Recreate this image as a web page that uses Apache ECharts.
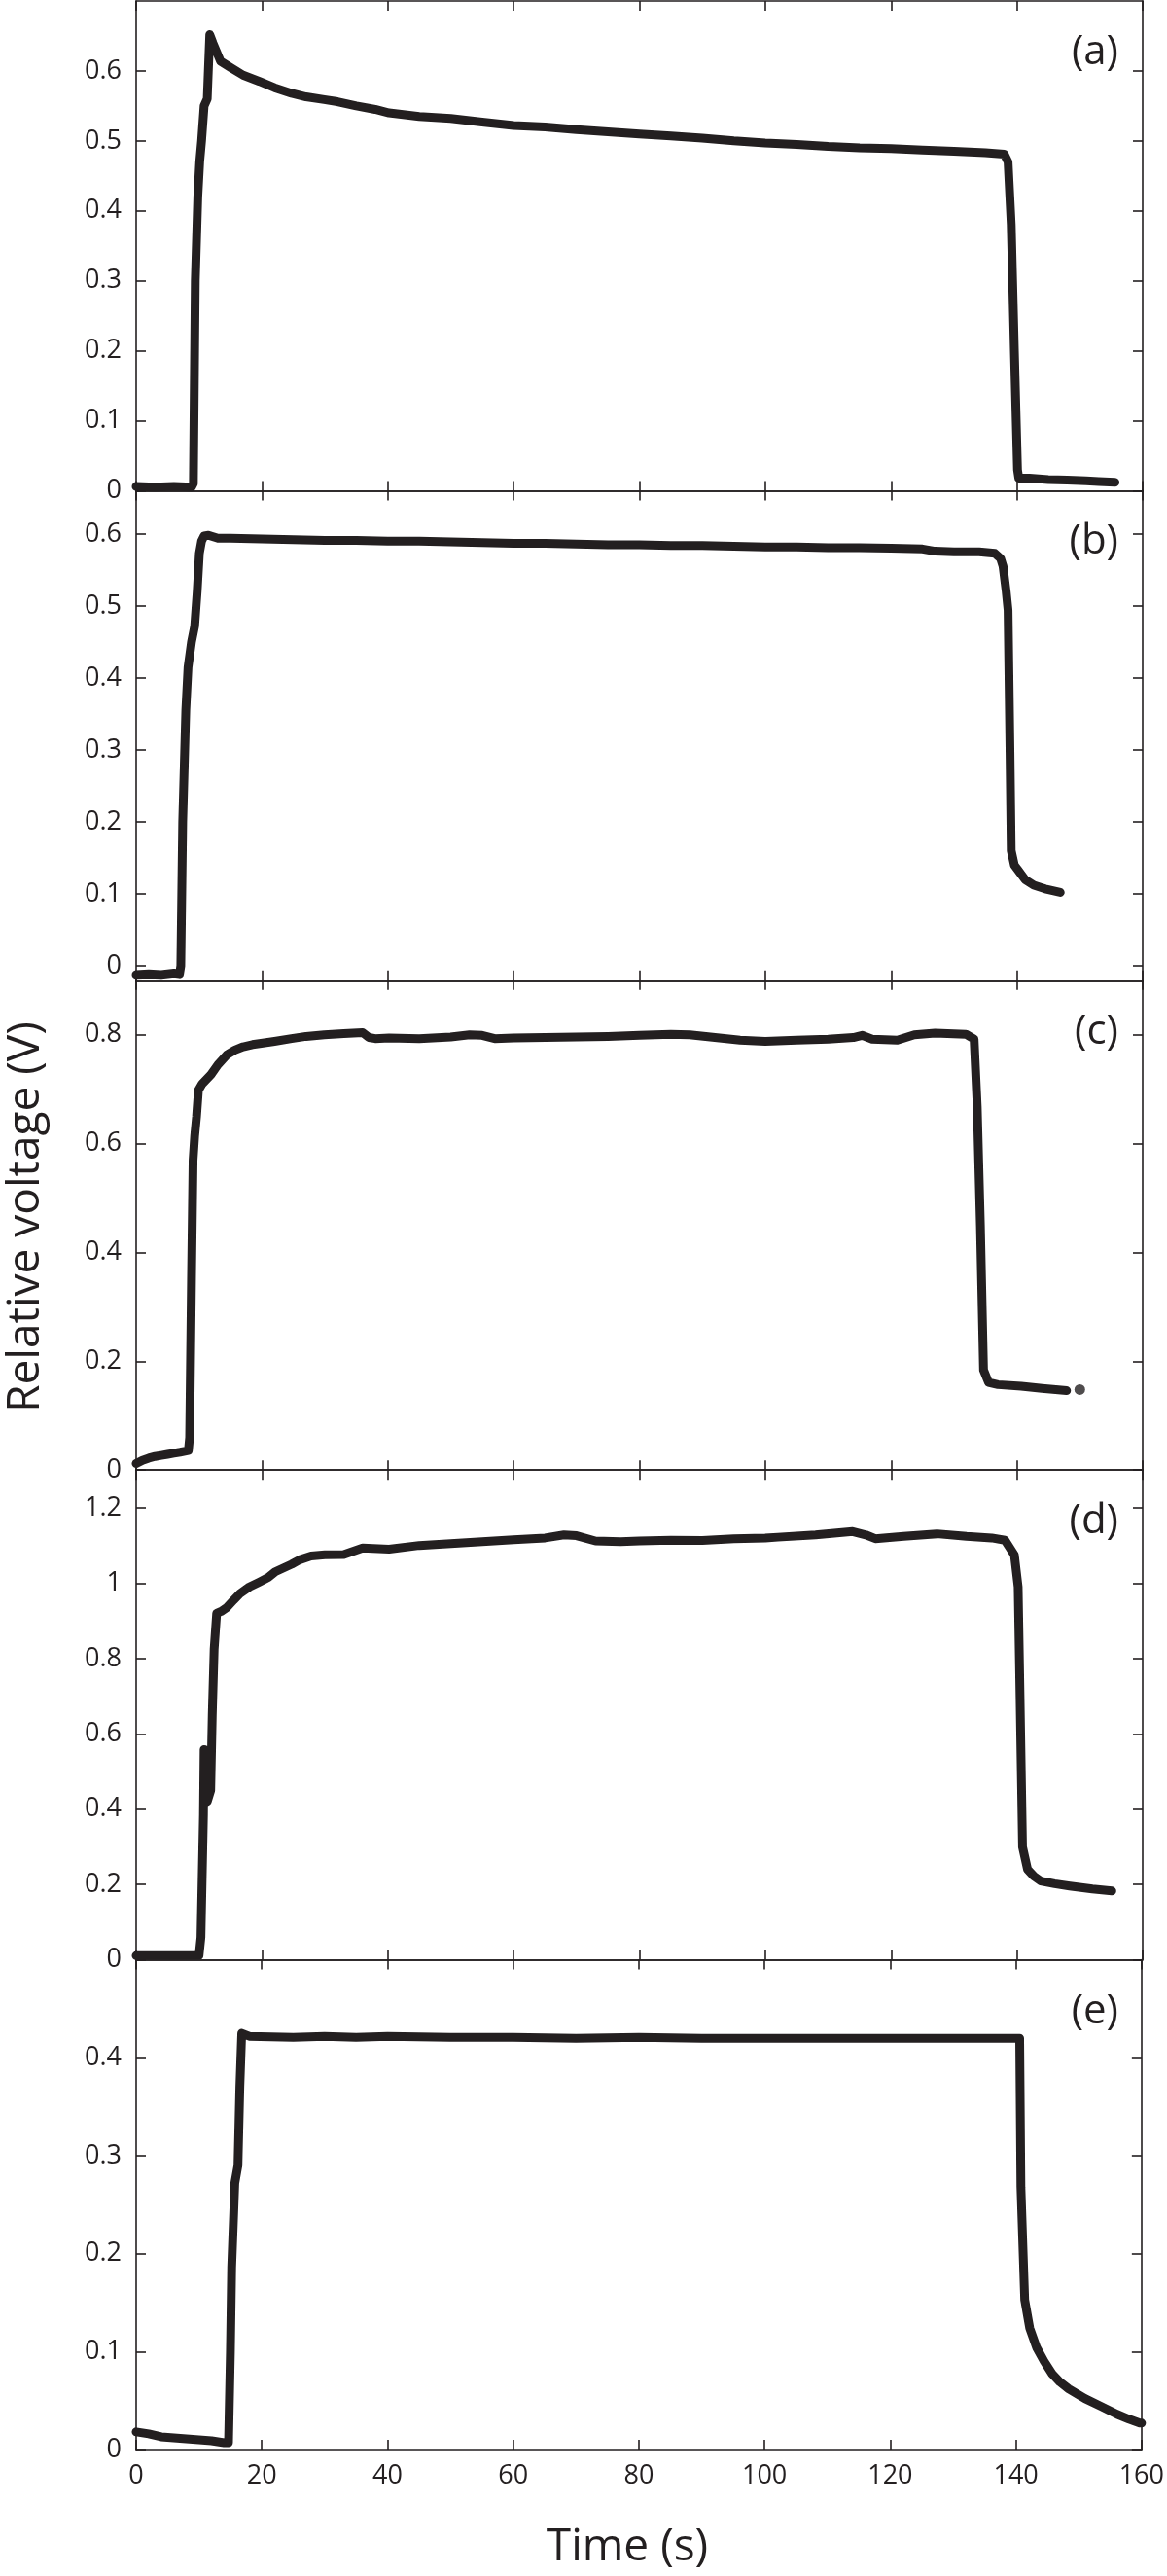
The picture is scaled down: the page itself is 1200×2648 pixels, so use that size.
<!DOCTYPE html>
<html><head><meta charset="utf-8">
<script src="https://cdn.jsdelivr.net/npm/echarts@6/dist/echarts.min.js"></script>
<style>html,body{margin:0;padding:0;background:#fff}#chart{width:1200px;height:2648px}</style>
</head><body><div id="chart"></div>
<script>
// ---- data (time in s, relative voltage in V) ----
const xTickValues = [0, 20, 40, 60, 80, 100, 120, 140, 160];
const panelLabels = ['(a)', '(b)', '(c)', '(d)', '(e)'];
const yMins = [0, -0.02, 0, 0, 0];
const yMaxs = [0.7, 0.66, 0.9, 1.3, 0.5];
const yTicksA = [0, 0.1, 0.2, 0.3, 0.4, 0.5, 0.6];
const yTicksB = [0, 0.1, 0.2, 0.3, 0.4, 0.5, 0.6];
const yTicksC = [0, 0.2, 0.4, 0.6, 0.8];
const yTicksD = [0, 0.2, 0.4, 0.6, 0.8, 1, 1.2];
const yTicksE = [0, 0.1, 0.2, 0.3, 0.4];

const seriesA = [[0,0.006],[3,0.005],[6,0.006],[8.8,0.005],[9.1,0.01],[9.4,0.3],[9.8,0.42],[10.1,0.47],[10.4,0.5],[10.8,0.55],[11.3,0.56],[11.7,0.652],[12.2,0.64],[13.4,0.614],[15,0.605],[17,0.594],[19.6,0.585],[22,0.576],[24.7,0.568],[27,0.563],[29.9,0.559],[32,0.556],[35,0.55],[38,0.545],[40.2,0.54],[45,0.535],[50,0.532],[55,0.527],[60,0.522],[65,0.52],[70,0.516],[75,0.513],[80,0.51],[85,0.507],[90,0.504],[95,0.5],[100,0.497],[105,0.495],[110,0.492],[115,0.49],[120,0.489],[125,0.487],[130,0.485],[135,0.483],[138,0.481],[138.6,0.47],[139.1,0.38],[139.6,0.2],[140.1,0.03],[140.3,0.018],[142,0.018],[145,0.016],[148,0.015],[151,0.014],[153,0.013],[155.6,0.012]];

const seriesB = [[0,-0.012],[2,-0.011],[4,-0.012],[6,-0.01],[6.9,-0.011],[7.1,0.0],[7.4,0.2],[7.9,0.356],[8.25,0.415],[8.8,0.45],[9.3,0.472],[9.7,0.52],[10.05,0.573],[10.4,0.59],[10.8,0.597],[11.5,0.598],[13,0.594],[15,0.594],[20,0.593],[25,0.592],[30,0.591],[35,0.591],[40,0.59],[45,0.59],[50,0.589],[55,0.588],[60,0.587],[65,0.587],[70,0.586],[75,0.585],[80,0.585],[85,0.584],[90,0.584],[95,0.583],[100,0.582],[105,0.582],[110,0.581],[115,0.581],[120,0.58],[125,0.579],[127,0.576],[130,0.575],[134,0.575],[136.5,0.573],[137.4,0.566],[137.8,0.555],[138.3,0.52],[138.6,0.494],[138.9,0.3],[139.1,0.16],[139.6,0.14],[140.2,0.133],[141.3,0.12],[142.7,0.112],[144.5,0.107],[146.9,0.102]];

const seriesC = [[0,0.012],[1,0.018],[2,0.022],[3,0.025],[4,0.027],[5,0.029],[6,0.031],[7,0.033],[8.3,0.036],[8.5,0.06],[8.8,0.35],[9.05,0.57],[9.3,0.614],[9.6,0.65],[9.9,0.698],[10.5,0.71],[11.9,0.727],[13,0.745],[14.4,0.763],[15.7,0.772],[17,0.778],[18.5,0.782],[19.6,0.784],[22,0.788],[24.7,0.793],[27,0.797],[29.9,0.8],[33,0.802],[36,0.804],[37,0.795],[38,0.793],[40.2,0.794],[45,0.793],[50,0.796],[53,0.8],[55,0.799],[57,0.793],[60,0.794],[65,0.795],[70,0.796],[75,0.797],[80,0.799],[85,0.801],[88,0.8],[92,0.795],[96,0.79],[100,0.788],[105,0.79],[110,0.792],[114,0.795],[115.4,0.799],[117,0.792],[121,0.79],[123.7,0.8],[127,0.803],[131.9,0.801],[133.2,0.792],[133.7,0.667],[134.2,0.45],[134.7,0.184],[135.5,0.161],[137,0.157],[140.7,0.154],[144,0.15],[147.9,0.146]];
const seriesCDot = [[150,0.148]];

const seriesD = [[0,0.011],[5,0.011],[10,0.012],[10.3,0.06],[10.7,0.386],[10.8,0.558],[11.0,0.45],[11.3,0.42],[11.85,0.45],[12.1,0.65],[12.4,0.825],[12.8,0.92],[13.5,0.925],[14.4,0.935],[15.5,0.955],[16.5,0.972],[18,0.99],[19.6,1.003],[21,1.015],[22.1,1.03],[24.7,1.05],[26,1.062],[27.8,1.072],[30,1.075],[33,1.076],[36,1.093],[40.2,1.09],[45,1.1],[50,1.105],[55,1.11],[60,1.115],[65,1.12],[68,1.128],[70,1.126],[73,1.112],[77,1.11],[80,1.112],[85,1.114],[90,1.113],[95,1.118],[100,1.12],[102,1.122],[108,1.128],[113.9,1.137],[116,1.128],[117.5,1.118],[122,1.124],[127.3,1.131],[132,1.124],[136,1.12],[138.1,1.114],[139.6,1.075],[140.2,0.99],[140.5,0.7],[140.9,0.3],[141.7,0.24],[142.7,0.222],[143.8,0.209],[146,0.202],[148.4,0.196],[152,0.188],[155.1,0.183]];

const seriesE = [[0,0.018],[2,0.016],[4,0.013],[6,0.012],[8,0.011],[10,0.01],[12,0.009],[14,0.007],[14.7,0.007],[15.0,0.1],[15.2,0.186],[15.7,0.272],[16.2,0.29],[16.5,0.37],[16.8,0.425],[18,0.422],[25,0.421],[30,0.422],[35,0.421],[40,0.422],[50,0.421],[60,0.421],[70,0.42],[80,0.421],[90,0.42],[100,0.42],[110,0.42],[120,0.42],[130,0.42],[140.6,0.42],[140.8,0.268],[141.4,0.153],[142.2,0.124],[143.3,0.104],[144.5,0.09],[145.8,0.077],[147,0.069],[148.4,0.062],[151,0.052],[153.6,0.044],[156.1,0.036],[158,0.031],[159.7,0.027],[160,0.027]];

// ---- build ----
const INK = '#231f20';
const FONT = "'Open Sans', 'Noto Sans', sans-serif";
const panelData = [seriesA, seriesB, seriesC, seriesD, seriesE];
const yTicks = [yTicksA, yTicksB, yTicksC, yTicksD, yTicksE];
const PLOT_LEFT = 140, PLOT_RIGHT = 1175, PANEL_TOP = 1, PANEL_H = 503.4;

const grids = [], xAxes = [], yAxes = [], series = [], graphics = [];
const axisLine = { show: true, onZero: false, lineStyle: { color: INK, width: 1.6 } };
const tick = { show: true, inside: true, length: 10, lineStyle: { color: INK, width: 1.6 } };

panelData.forEach((d, i) => {
  const top = PANEL_TOP + i * PANEL_H;
  grids.push({ left: PLOT_LEFT, width: PLOT_RIGHT - PLOT_LEFT, top: top, height: PANEL_H, containLabel: false });
  const last = i === panelData.length - 1;
  xAxes.push({
    type: 'value', gridIndex: i, position: 'bottom', min: 0, max: 160, interval: 20,
    axisLine, axisTick: tick, splitLine: { show: false },
    axisLabel: { show: last, color: INK, fontFamily: FONT, fontSize: 27, margin: 14,
                 customValues: xTickValues }
  });
  xAxes.push({
    type: 'value', gridIndex: i, position: 'top', min: 0, max: 160, interval: 20,
    axisLine, axisTick: tick, splitLine: { show: false }, axisLabel: { show: false }
  });
  yAxes.push({
    type: 'value', gridIndex: i, position: 'left', min: yMins[i], max: yMaxs[i],
    axisLine, axisTick: Object.assign({}, tick, { customValues: yTicks[i] }),
    splitLine: { show: false },
    axisLabel: { color: INK, fontFamily: FONT, fontSize: 27, margin: 15, customValues: yTicks[i] }
  });
  yAxes.push({
    type: 'value', gridIndex: i, position: 'right', min: yMins[i], max: yMaxs[i],
    axisLine, axisTick: Object.assign({}, tick, { customValues: yTicks[i] }),
    splitLine: { show: false }, axisLabel: { show: false }
  });
  series.push({
    type: 'line', xAxisIndex: 2 * i, yAxisIndex: 2 * i, data: d, symbol: 'none',
    lineStyle: { color: INK, width: 9, cap: 'round', join: 'round' }, silent: true
  });
  graphics.push({
    type: 'text', right: 1200 - 1150, top: top + 32,
    style: { text: panelLabels[i], fill: INK, font: "42px " + FONT }
  });
});

series.push({
  type: 'scatter', xAxisIndex: 4, yAxisIndex: 4, data: seriesCDot, symbolSize: 11,
  itemStyle: { color: INK }, silent: true
});

graphics.push({
  type: 'text', x: 27, y: 1251, rotation: Math.PI / 2,
  style: { text: 'Relative voltage (V)', fill: INK, font: "46px " + FONT, textAlign: 'center', textVerticalAlign: 'middle' }
});
graphics.push({
  type: 'text', x: 645, y: 2619,
  style: { text: 'Time (s)', fill: INK, font: "46px " + FONT, textAlign: 'center', textVerticalAlign: 'middle' }
});

const chart = echarts.init(document.getElementById('chart'), null, { renderer: 'canvas' });
chart.setOption({
  animation: false, backgroundColor: '#fff',
  grid: grids, xAxis: xAxes, yAxis: yAxes, series: series, graphic: graphics
});
</script></body></html>
